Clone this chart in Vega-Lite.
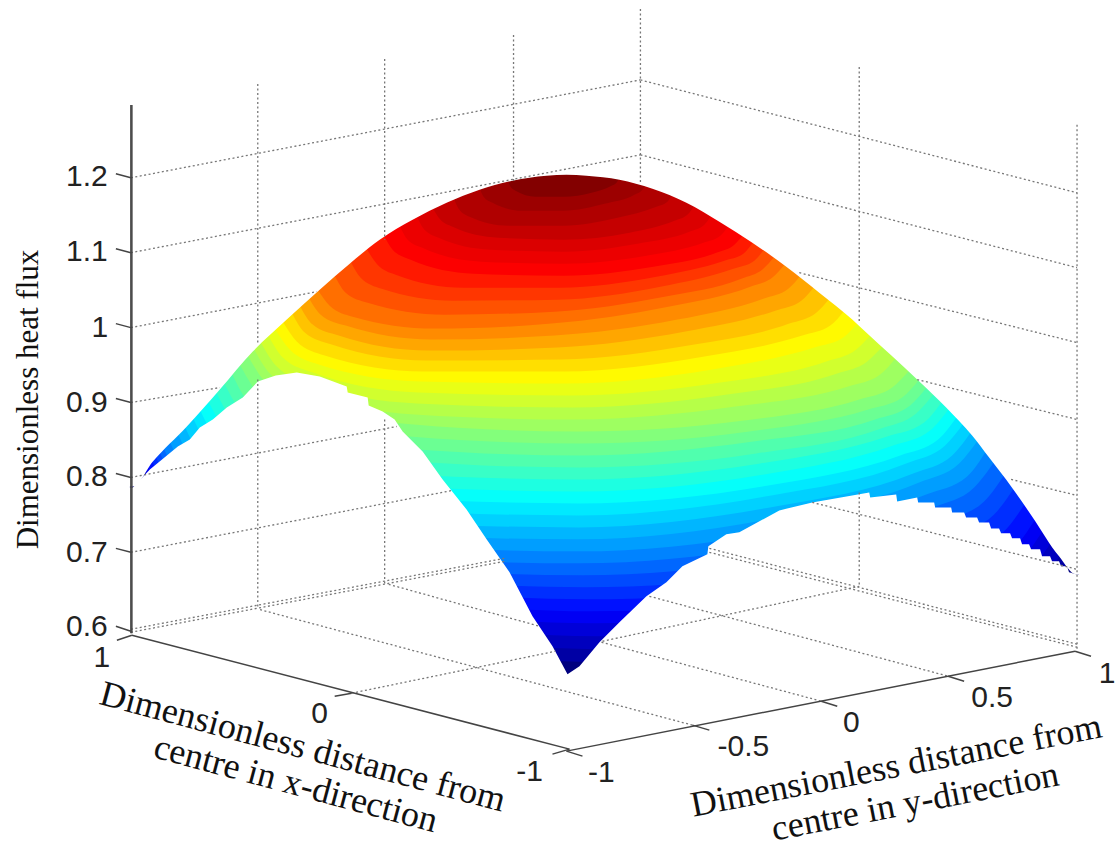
{"$schema":"https://vega.github.io/schema/vega-lite/v6.json","width":1116,"height":848,"padding":0,"autosize":{"type":"fit","contains":"padding"},"background":"white","config":{"view":{"stroke":null}},
"datasets":{
"surface":[
{"z":0.7,"x":130,"y":848},{"z":0.7,"x":1080,"y":848},
{"z":0.718,"x":137,"y":480},{"z":0.718,"x":160,"y":534},{"z":0.718,"x":207,"y":573},{"z":0.718,"x":370,"y":635},{"z":0.718,"x":603,"y":663},{"z":0.718,"x":836,"y":653},{"z":0.718,"x":999,"y":620},{"z":0.718,"x":1046,"y":597},{"z":0.718,"x":1069,"y":564},
{"z":0.731,"x":140,"y":476},{"z":0.731,"x":163,"y":527},{"z":0.731,"x":209,"y":565},{"z":0.731,"x":370,"y":624},{"z":0.731,"x":600,"y":650},{"z":0.731,"x":831,"y":640},{"z":0.731,"x":992,"y":609},{"z":0.731,"x":1038,"y":588},{"z":0.731,"x":1061,"y":556},
{"z":0.744,"x":143,"y":472},{"z":0.744,"x":166,"y":522},{"z":0.744,"x":211,"y":557},{"z":0.744,"x":370,"y":613},{"z":0.744,"x":598,"y":637},{"z":0.744,"x":825,"y":626},{"z":0.744,"x":984,"y":595},{"z":0.744,"x":1029,"y":574},{"z":0.744,"x":1052,"y":543},
{"z":0.757,"x":146,"y":469},{"z":0.757,"x":168,"y":517},{"z":0.757,"x":213,"y":551},{"z":0.757,"x":371,"y":602},{"z":0.757,"x":595,"y":624},{"z":0.757,"x":820,"y":613},{"z":0.757,"x":977,"y":580},{"z":0.757,"x":1022,"y":560},{"z":0.757,"x":1044,"y":531},
{"z":0.771,"x":148,"y":466},{"z":0.771,"x":170,"y":511},{"z":0.771,"x":215,"y":543},{"z":0.771,"x":370,"y":592},{"z":0.771,"x":592,"y":612},{"z":0.771,"x":814,"y":600},{"z":0.771,"x":969,"y":568},{"z":0.771,"x":1014,"y":549},{"z":0.771,"x":1036,"y":520},
{"z":0.785,"x":152,"y":461},{"z":0.785,"x":174,"y":505},{"z":0.785,"x":218,"y":536},{"z":0.785,"x":371,"y":584},{"z":0.785,"x":589,"y":600},{"z":0.785,"x":808,"y":585},{"z":0.785,"x":960,"y":553},{"z":0.785,"x":1004,"y":533},{"z":0.785,"x":1026,"y":504},
{"z":0.799,"x":156,"y":457},{"z":0.799,"x":178,"y":501},{"z":0.799,"x":221,"y":531},{"z":0.799,"x":371,"y":575},{"z":0.799,"x":586,"y":588},{"z":0.799,"x":801,"y":570},{"z":0.799,"x":952,"y":536},{"z":0.799,"x":995,"y":515},{"z":0.799,"x":1016,"y":487},
{"z":0.813,"x":160,"y":453},{"z":0.813,"x":181,"y":495},{"z":0.813,"x":223,"y":524},{"z":0.813,"x":372,"y":566},{"z":0.813,"x":583,"y":576},{"z":0.813,"x":795,"y":556},{"z":0.813,"x":943,"y":522},{"z":0.813,"x":985,"y":502},{"z":0.813,"x":1006,"y":474},
{"z":0.827,"x":164,"y":449},{"z":0.827,"x":185,"y":489},{"z":0.827,"x":226,"y":517},{"z":0.827,"x":372,"y":556},{"z":0.827,"x":580,"y":564},{"z":0.827,"x":788,"y":543},{"z":0.827,"x":934,"y":508},{"z":0.827,"x":975,"y":488},{"z":0.827,"x":996,"y":461},
{"z":0.84,"x":170,"y":442},{"z":0.84,"x":190,"y":481},{"z":0.84,"x":231,"y":508},{"z":0.84,"x":375,"y":545},{"z":0.84,"x":579,"y":552},{"z":0.84,"x":784,"y":531},{"z":0.84,"x":927,"y":495},{"z":0.84,"x":968,"y":477},{"z":0.84,"x":988,"y":450},
{"z":0.852,"x":178,"y":434},{"z":0.852,"x":198,"y":472},{"z":0.852,"x":238,"y":498},{"z":0.852,"x":379,"y":534},{"z":0.852,"x":579,"y":540},{"z":0.852,"x":780,"y":518},{"z":0.852,"x":920,"y":483},{"z":0.852,"x":960,"y":464},{"z":0.852,"x":980,"y":439},
{"z":0.865,"x":185,"y":427},{"z":0.865,"x":205,"y":464},{"z":0.865,"x":244,"y":488},{"z":0.865,"x":382,"y":522},{"z":0.865,"x":579,"y":528},{"z":0.865,"x":776,"y":507},{"z":0.865,"x":914,"y":474},{"z":0.865,"x":953,"y":456},{"z":0.865,"x":973,"y":431},
{"z":0.877,"x":193,"y":418},{"z":0.877,"x":212,"y":453},{"z":0.877,"x":251,"y":477},{"z":0.877,"x":386,"y":510},{"z":0.877,"x":579,"y":516},{"z":0.877,"x":772,"y":496},{"z":0.877,"x":907,"y":464},{"z":0.877,"x":946,"y":446},{"z":0.877,"x":965,"y":423},
{"z":0.89,"x":200,"y":410},{"z":0.89,"x":219,"y":444},{"z":0.89,"x":257,"y":467},{"z":0.89,"x":390,"y":498},{"z":0.89,"x":579,"y":504},{"z":0.89,"x":769,"y":486},{"z":0.89,"x":901,"y":456},{"z":0.89,"x":939,"y":440},{"z":0.89,"x":958,"y":417},
{"z":0.902,"x":208,"y":401},{"z":0.902,"x":227,"y":433},{"z":0.902,"x":264,"y":456},{"z":0.902,"x":394,"y":486},{"z":0.902,"x":579,"y":492},{"z":0.902,"x":765,"y":475},{"z":0.902,"x":894,"y":446},{"z":0.902,"x":931,"y":431},{"z":0.902,"x":950,"y":409},
{"z":0.915,"x":216,"y":392},{"z":0.915,"x":234,"y":423},{"z":0.915,"x":271,"y":444},{"z":0.915,"x":398,"y":474},{"z":0.915,"x":580,"y":480},{"z":0.915,"x":761,"y":464},{"z":0.915,"x":888,"y":437},{"z":0.915,"x":925,"y":423},{"z":0.915,"x":943,"y":402},
{"z":0.927,"x":224,"y":383},{"z":0.927,"x":242,"y":413},{"z":0.927,"x":277,"y":433},{"z":0.927,"x":402,"y":461},{"z":0.927,"x":580,"y":468},{"z":0.927,"x":757,"y":454},{"z":0.927,"x":882,"y":429},{"z":0.927,"x":917,"y":414},{"z":0.927,"x":935,"y":394},
{"z":0.94,"x":232,"y":374},{"z":0.94,"x":249,"y":403},{"z":0.94,"x":284,"y":421},{"z":0.94,"x":406,"y":449},{"z":0.94,"x":580,"y":456},{"z":0.94,"x":754,"y":442},{"z":0.94,"x":876,"y":420},{"z":0.94,"x":911,"y":406},{"z":0.94,"x":928,"y":387},
{"z":0.952,"x":240,"y":365},{"z":0.952,"x":257,"y":392},{"z":0.952,"x":291,"y":411},{"z":0.952,"x":410,"y":437},{"z":0.952,"x":580,"y":444},{"z":0.952,"x":750,"y":432},{"z":0.952,"x":869,"y":410},{"z":0.952,"x":903,"y":398},{"z":0.952,"x":920,"y":380},
{"z":0.965,"x":248,"y":356},{"z":0.965,"x":265,"y":382},{"z":0.965,"x":298,"y":400},{"z":0.965,"x":414,"y":425},{"z":0.965,"x":579,"y":432},{"z":0.965,"x":745,"y":421},{"z":0.965,"x":860,"y":400},{"z":0.965,"x":893,"y":388},{"z":0.965,"x":910,"y":371},
{"z":0.977,"x":254,"y":349},{"z":0.977,"x":270,"y":374},{"z":0.977,"x":302,"y":391},{"z":0.977,"x":415,"y":415},{"z":0.977,"x":575,"y":420},{"z":0.977,"x":736,"y":407},{"z":0.977,"x":849,"y":387},{"z":0.977,"x":881,"y":375},{"z":0.977,"x":897,"y":358},
{"z":0.99,"x":261,"y":343},{"z":0.99,"x":277,"y":367},{"z":0.99,"x":308,"y":383},{"z":0.99,"x":417,"y":404},{"z":0.99,"x":573,"y":408},{"z":0.99,"x":728,"y":395},{"z":0.99,"x":838,"y":374},{"z":0.99,"x":868,"y":362},{"z":0.99,"x":884,"y":346},
{"z":1.002,"x":268,"y":335},{"z":1.002,"x":283,"y":358},{"z":1.002,"x":313,"y":373},{"z":1.002,"x":419,"y":393},{"z":1.002,"x":570,"y":396},{"z":1.002,"x":721,"y":383},{"z":1.002,"x":827,"y":362},{"z":1.002,"x":857,"y":350},{"z":1.002,"x":872,"y":335},
{"z":1.015,"x":275,"y":329},{"z":1.015,"x":290,"y":350},{"z":1.015,"x":319,"y":365},{"z":1.015,"x":421,"y":382},{"z":1.015,"x":567,"y":384},{"z":1.015,"x":713,"y":370},{"z":1.015,"x":815,"y":348},{"z":1.015,"x":844,"y":338},{"z":1.015,"x":859,"y":323},
{"z":1.028,"x":283,"y":322},{"z":1.028,"x":297,"y":342},{"z":1.028,"x":325,"y":356},{"z":1.028,"x":424,"y":372},{"z":1.028,"x":564,"y":372},{"z":1.028,"x":705,"y":357},{"z":1.028,"x":803,"y":336},{"z":1.028,"x":831,"y":326},{"z":1.028,"x":845,"y":311},
{"z":1.042,"x":292,"y":313},{"z":1.042,"x":305,"y":333},{"z":1.042,"x":332,"y":345},{"z":1.042,"x":427,"y":361},{"z":1.042,"x":561,"y":360},{"z":1.042,"x":695,"y":345},{"z":1.042,"x":790,"y":324},{"z":1.042,"x":817,"y":313},{"z":1.042,"x":830,"y":299},
{"z":1.056,"x":300,"y":306},{"z":1.056,"x":313,"y":325},{"z":1.056,"x":339,"y":336},{"z":1.056,"x":429,"y":351},{"z":1.056,"x":558,"y":348},{"z":1.056,"x":686,"y":332},{"z":1.056,"x":776,"y":311},{"z":1.056,"x":802,"y":301},{"z":1.056,"x":815,"y":287},
{"z":1.069,"x":309,"y":298},{"z":1.069,"x":321,"y":315},{"z":1.069,"x":346,"y":326},{"z":1.069,"x":432,"y":340},{"z":1.069,"x":555,"y":336},{"z":1.069,"x":678,"y":320},{"z":1.069,"x":764,"y":299},{"z":1.069,"x":789,"y":289},{"z":1.069,"x":801,"y":276},
{"z":1.083,"x":318,"y":290},{"z":1.083,"x":330,"y":306},{"z":1.083,"x":353,"y":317},{"z":1.083,"x":435,"y":329},{"z":1.083,"x":552,"y":324},{"z":1.083,"x":669,"y":307},{"z":1.083,"x":751,"y":287},{"z":1.083,"x":774,"y":277},{"z":1.083,"x":786,"y":264},
{"z":1.097,"x":335,"y":276},{"z":1.097,"x":346,"y":293},{"z":1.097,"x":368,"y":303},{"z":1.097,"x":445,"y":315},{"z":1.097,"x":555,"y":312},{"z":1.097,"x":665,"y":297},{"z":1.097,"x":742,"y":279},{"z":1.097,"x":764,"y":269},{"z":1.097,"x":775,"y":257},
{"z":1.111,"x":351,"y":262},{"z":1.111,"x":361,"y":278},{"z":1.111,"x":382,"y":289},{"z":1.111,"x":454,"y":301},{"z":1.111,"x":558,"y":300},{"z":1.111,"x":661,"y":287},{"z":1.111,"x":734,"y":269},{"z":1.111,"x":755,"y":261},{"z":1.111,"x":765,"y":249},
{"z":1.125,"x":367,"y":249},{"z":1.125,"x":377,"y":264},{"z":1.125,"x":396,"y":275},{"z":1.125,"x":464,"y":288},{"z":1.125,"x":560,"y":288},{"z":1.125,"x":657,"y":277},{"z":1.125,"x":725,"y":261},{"z":1.125,"x":744,"y":254},{"z":1.125,"x":754,"y":242},
{"z":1.139,"x":384,"y":235},{"z":1.139,"x":393,"y":250},{"z":1.139,"x":411,"y":260},{"z":1.139,"x":474,"y":274},{"z":1.139,"x":564,"y":276},{"z":1.139,"x":654,"y":267},{"z":1.139,"x":717,"y":253},{"z":1.139,"x":735,"y":245},{"z":1.139,"x":744,"y":235},
{"z":1.147,"x":400,"y":226},{"z":1.147,"x":408,"y":240},{"z":1.147,"x":425,"y":249},{"z":1.147,"x":482,"y":262},{"z":1.147,"x":565,"y":264},{"z":1.147,"x":647,"y":256},{"z":1.147,"x":704,"y":243},{"z":1.147,"x":721,"y":236},{"z":1.147,"x":729,"y":226},
{"z":1.155,"x":417,"y":216},{"z":1.155,"x":424,"y":229},{"z":1.155,"x":439,"y":238},{"z":1.155,"x":491,"y":250},{"z":1.155,"x":565,"y":252},{"z":1.155,"x":638,"y":244},{"z":1.155,"x":690,"y":232},{"z":1.155,"x":705,"y":225},{"z":1.155,"x":712,"y":215},
{"z":1.166,"x":433,"y":208},{"z":1.166,"x":440,"y":219},{"z":1.166,"x":453,"y":227},{"z":1.166,"x":499,"y":238},{"z":1.166,"x":564,"y":240},{"z":1.166,"x":630,"y":233},{"z":1.166,"x":675,"y":221},{"z":1.166,"x":688,"y":215},{"z":1.166,"x":695,"y":206},
{"z":1.176,"x":454,"y":198},{"z":1.176,"x":459,"y":209},{"z":1.176,"x":470,"y":217},{"z":1.176,"x":509,"y":226},{"z":1.176,"x":564,"y":226},{"z":1.176,"x":618,"y":218},{"z":1.176,"x":657,"y":207},{"z":1.176,"x":668,"y":202},{"z":1.176,"x":673,"y":194},
{"z":1.186,"x":480,"y":188},{"z":1.186,"x":484,"y":197},{"z":1.186,"x":493,"y":203},{"z":1.186,"x":522,"y":211},{"z":1.186,"x":564,"y":211},{"z":1.186,"x":605,"y":204},{"z":1.186,"x":635,"y":195},{"z":1.186,"x":643,"y":190},{"z":1.186,"x":647,"y":184},
{"z":1.198,"x":508,"y":180},{"z":1.198,"x":511,"y":187},{"z":1.198,"x":516,"y":191},{"z":1.198,"x":536,"y":197},{"z":1.198,"x":564,"y":197},{"z":1.198,"x":592,"y":193},{"z":1.198,"x":612,"y":186},{"z":1.198,"x":617,"y":183},{"z":1.198,"x":620,"y":178}
],
"above":[{"x":0,"y":487},{"x":133,"y":487},{"x":153,"y":462},{"x":187,"y":427},{"x":220,"y":390},{"x":253,"y":352},{"x":287,"y":320},{"x":320,"y":290},{"x":350,"y":264},{"x":380,"y":240},{"x":413,"y":220},{"x":447,"y":203},{"x":480,"y":190},{"x":513,"y":181},{"x":547,"y":176},{"x":567,"y":175},{"x":587,"y":176},{"x":620,"y":180},{"x":653,"y":189},{"x":687,"y":203},{"x":720,"y":222},{"x":753,"y":243},{"x":787,"y":267},{"x":820,"y":293},{"x":853,"y":320},{"x":867,"y":333},{"x":918,"y":380},{"x":947,"y":408},{"x":973,"y":436},{"x":990,"y":458},{"x":1007,"y":480},{"x":1033,"y":517},{"x":1060,"y":557},{"x":1077,"y":575},{"x":1116,"y":575}],
"below":[{"x":0,"y":490},{"x":133,"y":488},{"x":150,"y":470},{"x":178,"y":447},{"x":190,"y":440},{"x":200,"y":428},{"x":213,"y":420},{"x":227,"y":408},{"x":243,"y":398},{"x":258,"y":382},{"x":270,"y":378},{"x":276,"y":376},{"x":297,"y":373},{"x":320,"y":377},{"x":347,"y":387},{"x":348,"y":393},{"x":368,"y":398},{"x":369,"y":406},{"x":383,"y":412},{"x":395,"y":420},{"x":403,"y":432},{"x":423,"y":452},{"x":443,"y":480},{"x":467,"y":510},{"x":487,"y":540},{"x":510,"y":573},{"x":533,"y":617},{"x":553,"y":647},{"x":568,"y":675},{"x":580,"y":667},{"x":600,"y":643},{"x":620,"y":623},{"x":647,"y":597},{"x":667,"y":583},{"x":683,"y":567},{"x":708,"y":555},{"x":709,"y":547},{"x":727,"y":535},{"x":740,"y":533},{"x":780,"y":511},{"x":813,"y":503},{"x":870,"y":493},{"x":871,"y":498},{"x":897,"y":495},{"x":898,"y":502},{"x":918,"y":498},{"x":919,"y":503},{"x":935,"y":503},{"x":936,"y":508},{"x":952,"y":508},{"x":953,"y":513},{"x":965,"y":513},{"x":967,"y":518},{"x":978,"y":518},{"x":980,"y":523},{"x":990,"y":523},{"x":992,"y":529},{"x":1000,"y":529},{"x":1002,"y":534},{"x":1011,"y":534},{"x":1013,"y":539},{"x":1021,"y":539},{"x":1023,"y":545},{"x":1030,"y":545},{"x":1032,"y":550},{"x":1041,"y":550},{"x":1043,"y":557},{"x":1051,"y":557},{"x":1053,"y":562},{"x":1060,"y":562},{"x":1062,"y":567},{"x":1068,"y":567},{"x":1070,"y":573},{"x":1077,"y":575},{"x":1116,"y":575}],
"grid":[{"x":258,"y":84,"x2":258,"y2":343},{"x":258,"y":380,"x2":258,"y2":608},{"x":385,"y":59,"x2":385,"y2":240},{"x":385,"y":420,"x2":385,"y2":585},{"x":514,"y":35,"x2":514,"y2":181},{"x":641,"y":9,"x2":641,"y2":183},{"x":860,"y":67,"x2":860,"y2":324},{"x":860,"y":493,"x2":860,"y2":587},{"x":1078,"y":125,"x2":1078,"y2":650},
{"x":131,"y":178,"x2":641,"y2":80},{"x":131,"y":253,"x2":641,"y2":155},{"x":131,"y":328,"x2":317,"y2":292},{"x":131,"y":403,"x2":220,"y2":388},{"x":131,"y":478,"x2":397,"y2":427},{"x":131,"y":553,"x2":453,"y2":491},{"x":131,"y":630,"x2":505,"y2":559},{"x":131,"y":633,"x2":505,"y2":562},
{"x":641,"y":80,"x2":1078,"y2":193},{"x":641,"y":155,"x2":1078,"y2":268},{"x":800,"y":273,"x2":1078,"y2":343},{"x":918,"y":380,"x2":1078,"y2":420},{"x":1012,"y":480,"x2":1078,"y2":496},{"x":813,"y":503,"x2":1078,"y2":570},{"x":710,"y":553,"x2":1078,"y2":648},{"x":710,"y":549,"x2":1078,"y2":645},
{"x":352,"y":694,"x2":556,"y2":652},{"x":603,"y":642,"x2":860,"y2":587},{"x":693,"y":726,"x2":259,"y2":610},{"x":389,"y":585,"x2":540,"y2":627},{"x":602,"y":643,"x2":822,"y2":702},{"x":650,"y":597,"x2":949,"y2":677}],
"axes":[{"x":131,"y":105,"x2":131,"y2":634},{"x":132,"y":105,"x2":132,"y2":634},{"x":132,"y":636,"x2":570,"y2":750},{"x":567,"y":752,"x2":1076,"y2":652},
{"x":116,"y":174,"x2":131,"y2":178},{"x":116,"y":249,"x2":131,"y2":253},{"x":116,"y":324,"x2":131,"y2":328},{"x":116,"y":399,"x2":131,"y2":403},{"x":116,"y":474,"x2":131,"y2":478},{"x":116,"y":549,"x2":131,"y2":553},{"x":116,"y":627,"x2":131,"y2":632},
{"x":117,"y":641,"x2":132,"y2":636},{"x":335,"y":697,"x2":352,"y2":694},{"x":553,"y":755,"x2":570,"y2":750},
{"x":567,"y":752,"x2":583,"y2":757},{"x":693,"y":726,"x2":710,"y2":731},{"x":822,"y":702,"x2":838,"y2":707},{"x":949,"y":677,"x2":965,"y2":682},{"x":1076,"y":652,"x2":1092,"y2":657}],
"ticks":[{"t":"1.2","x":87,"y":177},{"t":"1.1","x":87,"y":252},{"t":"1","x":100,"y":328},{"t":"0.9","x":87,"y":403},{"t":"0.8","x":87,"y":478},{"t":"0.7","x":87,"y":554},{"t":"0.6","x":87,"y":628},
{"t":"1","x":102,"y":659},{"t":"0","x":320,"y":715},{"t":"-1","x":530,"y":773},
{"t":"-1","x":602,"y":774},{"t":"-0.5","x":744,"y":748},{"t":"0","x":852,"y":724},{"t":"0.5","x":993,"y":699},{"t":"1","x":1108,"y":675}],
"ztitle":[{"t":"Dimensionless heat flux","x":29,"y":400}],
"xtitle":[{"t":"Dimensionless distance from","x":303,"y":748},{"t":"centre in x-direction","x":296,"y":785}],
"ytitle":[{"t":"Dimensionless distance from","x":897,"y":767},{"t":"centre in y-direction","x":916,"y":803}]
},
"encoding":{"x":{"field":"x","type":"quantitative","axis":null,"scale":{"domain":[0,1116],"nice":false,"zero":false}},"y":{"field":"y","type":"quantitative","axis":null,"scale":{"domain":[0,848],"reverse":true,"nice":false,"zero":false}}},
"layer":[
{"data":{"name":"surface"},"mark":{"type":"area","orient":"vertical","interpolate":"monotone"},"encoding":{"y2":{"datum":0},"detail":{"field":"z","type":"nominal"},"color":{"field":"z","type":"quantitative","legend":null,"scale":{"domain":[0.7,0.7625,0.825,0.8875,0.95,1.0125,1.075,1.1375,1.2],"range":["#00007f","#0000ff","#007fff","#00ffff","#7fff7f","#ffff00","#ff7f00","#ff0000","#7f0000"],"interpolate":"rgb"}}}},
{"data":{"name":"above"},"mark":{"type":"area","orient":"vertical","color":"white","interpolate":"monotone"},"encoding":{"y2":{"datum":0}}},
{"data":{"name":"below"},"mark":{"type":"area","orient":"vertical","color":"white"},"encoding":{"y2":{"datum":848}}},
{"data":{"name":"grid"},"mark":{"type":"rule","color":"#777777","strokeWidth":1.3,"strokeDash":[2,2.5]},"encoding":{"x2":{"field":"x2"},"y2":{"field":"y2"}}},
{"data":{"name":"axes"},"mark":{"type":"rule","color":"#444444","strokeWidth":1.5},"encoding":{"x2":{"field":"x2"},"y2":{"field":"y2"}}},
{"data":{"name":"ticks"},"mark":{"type":"text","font":"Liberation Sans","fontSize":30,"color":"#222222","align":"center","baseline":"middle"},"encoding":{"text":{"field":"t"}}},
{"data":{"name":"ztitle"},"mark":{"type":"text","font":"Liberation Serif","fontSize":31,"color":"#111111","align":"center","baseline":"middle","angle":270},"encoding":{"text":{"field":"t"}}},
{"data":{"name":"xtitle"},"mark":{"type":"text","font":"Liberation Serif","fontSize":36,"color":"#111111","align":"center","baseline":"middle","angle":15},"encoding":{"text":{"field":"t"}}},
{"data":{"name":"ytitle"},"mark":{"type":"text","font":"Liberation Serif","fontSize":36,"color":"#111111","align":"center","baseline":"middle","angle":349},"encoding":{"text":{"field":"t"}}}
]}
